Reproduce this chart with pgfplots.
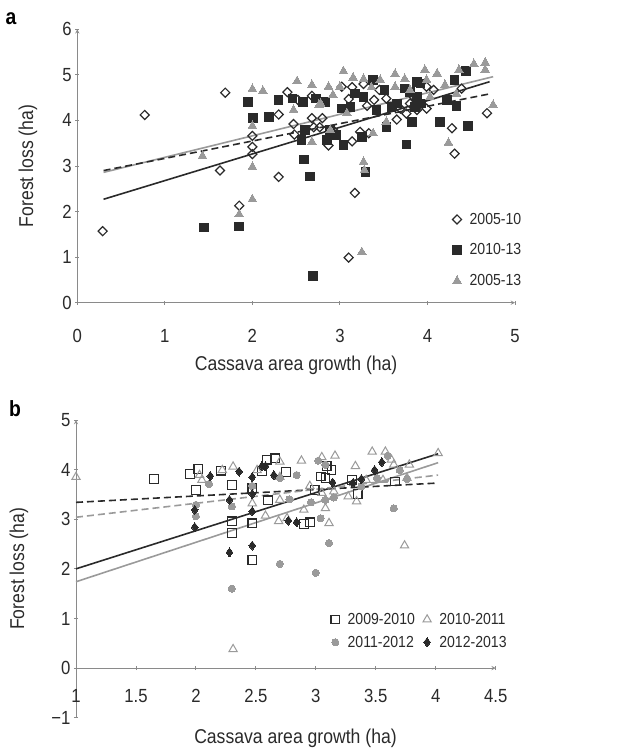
\documentclass[border=0pt]{standalone}
\usepackage{fontspec}
\setmainfont{Liberation Sans}[FakeStretch=0.88]
\usepackage{pgfplots}
\pgfplotsset{compat=1.18}
\definecolor{dk}{HTML}{2A2A2A}
\definecolor{gr}{HTML}{9A9A9A}
\definecolor{axc}{HTML}{8A8A8A}
\pgfplotsset{
  common/.style={
    scale only axis,
    axis line style={axc, line width=0.9pt, -},
    tick style={axc, line width=0.9pt},
    major tick length=4pt,
    tick align=outside,
    clip=false,
    tick label style={font=\fontsize{19}{22}\selectfont, text=dk},
    label style={font=\fontsize{20}{24}\selectfont, text=dk},
    legend style={draw=none, fill=none, font=\fontsize{16}{19}\selectfont, text=dk,
      /tikz/every odd column/.append style={column sep=6pt}},
    legend cell align=left,
  }
}
\begin{document}
\begin{tikzpicture}[x=1pt,y=1pt]
\path[use as bounding box] (0,0) rectangle (630,748);
\node[font=\fontsize{22}{24}\selectfont\bfseries, anchor=base, text=black] at (11,723) {a};
\node[font=\fontsize{22}{24}\selectfont\bfseries, anchor=base, text=black] at (15,331.3) {b};

\begin{axis}[common,
  at={(77.3pt,445.3pt)}, anchor=south west,
  width=437.7pt, height=273.4pt,
  xmin=0, xmax=5, ymin=0, ymax=6,
  axis lines=left,
  xtick={0,1,2,3,4,5}, xticklabels={0,1,2,3,4,5},
  ytick={0,1,2,3,4,5,6}, yticklabels={0,1,2,3,4,5,6},
  xticklabel style={yshift=-21pt},
  xlabel={Cassava area growth (ha)},
  ylabel={Forest loss (ha)},
  xlabel style={at={(axis description cs:0.5,-0.230)}, anchor=center},
  ylabel style={at={(axis description cs:-0.113,0.5)}, anchor=center},
  legend style={at={(0.85,0.343)}, anchor=north west, row sep=14pt},
]
\addplot[gr, line width=1.6pt, forget plot] coordinates {(0.30,2.86) (4.75,4.96)};
\addplot[dk, line width=1.6pt, dash pattern=on 7pt off 4pt, forget plot] coordinates {(0.30,2.90) (4.73,4.59)};
\addplot[dk, line width=1.6pt, forget plot] coordinates {(0.30,2.27) (4.71,4.85)};

\addplot[only marks, mark=square, mark size=3.2pt, mark options={rotate=45, draw=dk, fill=white, line width=1.2pt}] coordinates {
(0.29,1.57) (0.77,4.12) (1.63,2.90) (1.69,4.61) (1.85,2.13) (2.00,3.66) (2.00,3.42) (2.00,3.26)
(2.30,2.76) (2.30,4.13) (2.40,4.62) (2.47,3.92) (2.48,3.69) (2.52,4.45) (2.68,4.54) (2.68,4.05)
(2.70,3.85) (2.77,3.85) (2.80,4.05) (2.87,3.45) (2.92,3.79) (3.02,4.74) (3.10,4.47) (3.10,0.99)
(3.14,3.54) (3.14,4.73) (3.17,2.41) (3.23,3.75) (3.27,4.80) (3.31,4.32) (3.33,3.72) (3.39,4.45)
(3.45,4.67) (3.53,4.48) (3.65,4.02) (3.69,4.26) (3.76,4.15) (3.80,4.37) (3.84,4.52) (3.88,4.23)
(3.99,4.26) (3.99,4.74) (4.07,4.67) (4.28,3.83) (4.31,3.27) (4.39,4.70) (4.68,4.16)
};
\addlegendentry{2005-10}
\addplot[only marks, mark=square*, mark size=4.3pt, mark options={draw=dk, fill=dk, line width=0pt}] coordinates {
(1.45,1.65) (1.85,1.67) (1.95,4.41) (2.01,4.05) (2.19,4.08) (2.30,4.45) (2.46,4.48) (2.58,4.41)
(2.59,3.14) (2.66,2.77) (2.69,0.58) (2.56,3.57) (2.60,3.79) (2.73,4.48) (2.83,4.41) (2.85,3.57)
(2.89,3.79) (2.96,3.68) (3.04,3.46) (3.02,4.26) (3.12,4.30) (3.17,4.59) (3.25,3.64) (3.27,4.52)
(3.29,2.87) (3.38,4.89) (3.42,4.23) (3.51,4.67) (3.53,3.86) (3.59,4.30) (3.76,3.47) (3.80,4.63)
(3.82,3.97) (3.88,4.85) (3.86,4.30) (3.93,4.37) (3.92,4.81) (4.14,3.97) (4.22,4.45) (4.31,4.89)
(4.33,4.32) (4.44,5.09) (4.46,3.88) (3.65,4.37) (3.88,4.52) (3.74,4.70)
};
\addlegendentry{2010-13}
\addplot[only marks, mark=triangle*, mark size=5pt, mark options={draw=gr, fill=gr, line width=0pt}] coordinates {
(1.43,3.22) (1.85,1.94) (2.00,2.27) (2.00,2.98) (2.00,3.88) (2.00,4.69) (2.12,4.65) (2.47,4.23)
(2.51,4.86) (2.68,4.78) (2.68,3.53) (2.76,4.34) (2.87,4.74) (2.89,3.79) (3.04,5.08) (3.00,4.74)
(3.15,4.94) (3.25,1.11) (3.27,3.09) (3.28,2.91) (3.27,4.91) (3.36,4.73) (3.38,3.72) (3.46,4.89)
(3.53,3.97) (3.63,5.02) (3.74,4.91) (3.63,4.74) (3.97,5.11) (3.99,4.89) (4.11,5.03) (4.24,3.51)
(4.20,4.78) (4.36,5.11) (4.53,5.24) (4.66,5.27) (4.66,5.11) (4.75,4.34) (4.33,4.59) (4.03,4.52)
(3.08,4.16) (2.92,4.56) (2.78,4.37) (3.80,4.67)
};
\addlegendentry{2005-13}
\end{axis}

\begin{axis}[common,
  at={(76pt,30.3pt)}, anchor=south west,
  width=419.7pt, height=297.7pt,
  xmin=1, xmax=4.5, ymin=-1, ymax=5,
  axis x line=middle, axis y line=left,
  hide obscured x ticks=false, hide obscured y ticks=false,
  xtick={1,1.5,2,2.5,3,3.5,4,4.5}, xticklabels={1,1.5,2,2.5,3,3.5,4,4.5},
  ytick={-1,0,1,2,3,4,5}, yticklabels={−1,0,1,2,3,4,5},
  xticklabel style={anchor=north, yshift=-16pt},
  xlabel={Cassava area growth (ha)},
  ylabel={Forest loss (ha)},
  xlabel style={at={(axis description cs:0.523,-0.069)}, anchor=center, font=\fontsize{20}{24}\selectfont, text=dk},
  ylabel style={at={(axis description cs:-0.136,0.5)}, anchor=center, font=\fontsize{20}{24}\selectfont, text=dk},
  legend columns=2,
  legend style={at={(0.60,0.365)}, anchor=north west, row sep=6pt, /tikz/every even column/.append style={column sep=6pt}},
]
\addplot[dk, line width=1.6pt, forget plot] coordinates {(1,2.00) (4.02,4.32)};
\addplot[gr, line width=1.6pt, forget plot] coordinates {(1,1.74) (4.02,4.14)};
\addplot[dk, line width=1.6pt, dash pattern=on 7pt off 4pt, forget plot] coordinates {(1,3.34) (4.02,3.73)};
\addplot[gr, line width=1.6pt, dash pattern=on 7pt off 4pt, forget plot] coordinates {(1,3.04) (4.02,3.89)};

\addplot[only marks, mark=square, mark size=4.3pt, mark options={draw=dk, fill=white, line width=1.2pt}] coordinates {
(1.65,3.81) (1.95,3.91) (2.02,4.01) (2.00,3.59) (2.21,3.98) (2.30,3.69) (2.30,2.96) (2.30,2.72)
(2.47,3.63) (2.47,2.92) (2.47,2.18) (2.55,3.97) (2.59,4.20) (2.60,3.38) (2.66,4.23) (2.75,3.95)
(2.90,2.90) (2.95,2.94) (2.99,3.59) (3.04,3.86) (3.08,3.83) (3.09,4.07) (3.13,3.99) (3.30,3.79)
(3.35,3.51) (3.66,3.76)
};
\addlegendentry{2009-2010}
\addplot[only marks, mark=triangle, mark size=4.8pt, mark options={draw=gr, fill=white, line width=1pt}] coordinates {
(1.00,3.85) (2.03,3.89) (2.05,3.79) (2.22,3.99) (2.31,4.06) (2.31,0.38) (2.47,3.32) (2.51,3.99)
(2.58,3.07) (2.70,4.16) (2.70,3.85) (2.70,3.39) (2.69,2.96) (2.76,3.02) (2.88,4.18) (2.90,3.19)
(2.95,3.67) (3.05,4.25) (3.08,3.22) (3.11,2.92) (3.16,4.28) (3.33,4.07) (3.34,3.36) (3.27,3.46)
(3.42,3.79) (3.47,4.36) (3.58,4.36) (3.63,4.20) (3.65,4.10) (3.74,2.47) (3.76,3.83) (3.78,4.10)
(4.02,4.33) (3.56,3.79) (3.05,3.53) (3.15,3.56)
};
\addlegendentry{2010-2011}
\addplot[only marks, mark=*, mark size=3.6pt, mark options={draw=gr, fill=gr, line width=0pt}] coordinates {
(2.00,3.06) (2.00,3.29) (2.11,3.71) (2.30,3.26) (2.30,1.60) (2.47,3.67) (2.70,2.10) (2.70,3.83)
(2.84,3.89) (2.78,3.40) (2.96,3.34) (3.00,1.92) (3.02,4.18) (3.04,3.02) (3.08,3.39) (3.11,2.52)
(3.15,3.44) (3.38,3.66) (3.60,4.28) (3.65,3.22) (3.70,3.99) (3.76,3.81) (3.08,4.10) (3.51,3.83)
};
\addlegendentry{2011-2012}
\addplot[only marks, mark=diamond*, mark size=4.5pt, mark options={draw=dk, fill=dk, line width=0pt}] coordinates {
(1.99,2.84) (1.99,3.19) (2.12,3.87) (2.28,2.33) (2.28,3.39) (2.36,3.96) (2.47,3.85) (2.47,3.51)
(2.47,3.16) (2.47,2.47) (2.55,4.07) (2.58,4.07) (2.65,3.89) (2.77,2.97) (2.84,2.94) (3.14,3.74)
(3.31,3.73) (3.38,3.81) (3.49,3.99) (3.55,4.15)
};
\addlegendentry{2012-2013}
\end{axis}
\end{tikzpicture}
\end{document}
